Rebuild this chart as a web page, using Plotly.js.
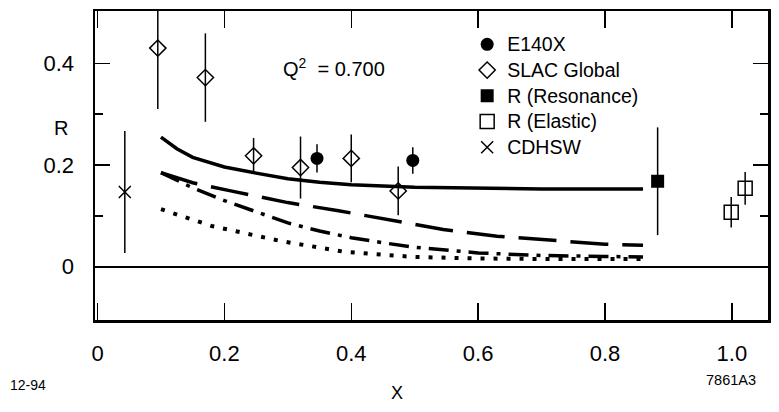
<!DOCTYPE html>
<html>
<head>
<meta charset="utf-8">
<script src="https://cdn.plot.ly/plotly-3.0.1.min.js"></script>
<style>html,body{margin:0;padding:0;background:#fff;}#chart{width:779px;height:412px;}</style>
</head>
<body>
<div id="chart"></div>
<script>
// Data points
const e140xX = [0.346, 0.497];
const e140xY = [0.213, 0.209];
const e140xErr = [0.028, 0.026];

const slacX = [0.095, 0.17, 0.246, 0.32, 0.40, 0.474];
const slacY = [0.43, 0.372, 0.218, 0.195, 0.213, 0.149];
const slacErr = [0.12, 0.087, 0.035, 0.061, 0.047, 0.048];

const resX = [0.883];
const resY = [0.168];
const resErr = [0.106];

const elasX = [0.999, 1.021];
const elasY = [0.107, 0.154];
const elasErr = [0.03, 0.032];

const cdhswX = [0.043];
const cdhswY = [0.147];
const cdhswErr = [0.12];

// Curves
const solidX = [0.10, 0.125, 0.15, 0.2, 0.25, 0.3, 0.35, 0.4, 0.5, 0.6, 0.7, 0.8, 0.86];
const solidY = [0.255, 0.232, 0.215, 0.196, 0.184, 0.173, 0.166, 0.161, 0.156, 0.154, 0.153, 0.153, 0.153];

const dashX = [0.10, 0.15, 0.21, 0.30, 0.38, 0.46, 0.545, 0.63, 0.71, 0.80, 0.86];
const dashY = [0.185, 0.165, 0.149, 0.126, 0.110, 0.092, 0.073, 0.060, 0.052, 0.044, 0.042];

const dashdotX = [0.10, 0.15, 0.2, 0.25, 0.3, 0.35, 0.4, 0.45, 0.5, 0.6, 0.7, 0.8, 0.86];
const dashdotY = [0.185, 0.155, 0.130, 0.108, 0.086, 0.070, 0.057, 0.047, 0.038, 0.027, 0.022, 0.020, 0.019];

const dotX = [0.10, 0.18, 0.29, 0.39, 0.5, 0.6, 0.7, 0.8, 0.86];
const dotY = [0.113, 0.080, 0.050, 0.029, 0.019, 0.016, 0.015, 0.015, 0.015];

const seriesNames = ['E140X', 'SLAC Global', 'R (Resonance)', 'R (Elastic)', 'CDHSW'];

const xTickVals = [0, 0.2, 0.4, 0.6, 0.8, 1.0];
const xTickText = ['0', '0.2', '0.4', '0.6', '0.8', '1.0'];
const yTickVals = [0, 0.2, 0.4];
const yTickText = ['0', '0.2', '0.4'];

const F = 'Liberation Sans, Arial, Helvetica, sans-serif';

function errBar(arr) {
  return {type: 'data', array: arr, visible: true, color: '#000', thickness: 1.5, width: 0};
}
function legName(s) {
  return '<span style="font-size:19.5px">' + s + '</span>';
}

const traces = [
  {x: solidX, y: solidY, mode: 'lines', line: {color: '#000', width: 3.5}, showlegend: false, hoverinfo: 'skip'},
  {x: dashX, y: dashY, mode: 'lines', line: {color: '#000', width: 3.5, dash: '38px,14px'}, showlegend: false, hoverinfo: 'skip'},
  {x: dashdotX, y: dashdotY, mode: 'lines', line: {color: '#000', width: 3.5, dash: '20px,8px,4px,8px'}, showlegend: false, hoverinfo: 'skip'},
  {x: dotX, y: dotY, mode: 'lines', line: {color: '#000', width: 4, dash: '4px,9px'}, showlegend: false, hoverinfo: 'skip'},
  {x: e140xX, y: e140xY, name: legName(seriesNames[0]), mode: 'markers', error_y: errBar(e140xErr),
   marker: {symbol: 'circle', size: 13, color: '#000'}},
  {x: slacX, y: slacY, name: legName(seriesNames[1]), mode: 'markers', error_y: errBar(slacErr),
   marker: {symbol: 'diamond-open', size: 12.5, color: '#000', line: {width: 1.5, color: '#000'}}},
  {x: resX, y: resY, name: legName(seriesNames[2]), mode: 'markers', error_y: errBar(resErr),
   marker: {symbol: 'square', size: 13, color: '#000'}},
  {x: elasX, y: elasY, name: legName(seriesNames[3]), mode: 'markers', error_y: errBar(elasErr),
   marker: {symbol: 'square-open', size: 14, color: '#000', line: {width: 1.5, color: '#000'}}},
  {x: cdhswX, y: cdhswY, name: legName(seriesNames[4]), mode: 'markers', error_y: errBar(cdhswErr),
   marker: {symbol: 'x-thin-open', size: 12, color: '#000', line: {width: 1.5, color: '#000'}}}
];

const layout = {
  width: 779, height: 412,
  margin: {l: 95, r: 11, t: 11, b: 91.5, pad: 0},
  paper_bgcolor: '#fff', plot_bgcolor: '#fff',
  font: {family: F, color: '#000', size: 18},
  showlegend: true,
  legend: {x: 0.553, y: 0.95, xanchor: 'left', yanchor: 'top', bgcolor: 'rgba(0,0,0,0)',
           borderwidth: 0, font: {family: F, size: 17.5, color: '#000'}, tracegroupgap: 0},
  xaxis: {
    range: [-0.004, 1.057], showgrid: false, zeroline: false,
    showline: true, linecolor: '#000', linewidth: 2.5, mirror: 'ticks',
    ticks: 'inside', ticklen: 17, tickwidth: 1.5, tickcolor: '#000',
    tickvals: xTickVals, ticktext: xTickText,
    tickfont: {family: F, size: 22, color: '#000'}, ticklabelstandoff: 12
  },
  yaxis: {
    range: [-0.105, 0.503], showgrid: false,
    zeroline: true, zerolinecolor: '#000', zerolinewidth: 1.8,
    showline: true, linecolor: '#000', linewidth: 2.5, mirror: 'ticks',
    ticks: 'inside', ticklen: 15, tickwidth: 1.5, tickcolor: '#000',
    tickvals: yTickVals, ticktext: yTickText,
    minor: {tickvals: [0.1, 0.3], ticks: 'inside', ticklen: 8, tickwidth: 1.5, tickcolor: '#000'},
    tickfont: {family: F, size: 22, color: '#000'}, ticklabelstandoff: 14
  },
  annotations: [
    {xref: 'x', yref: 'y', x: 0.29, y: 0.392, xanchor: 'left', yanchor: 'middle', showarrow: false,
     text: 'Q<sup>2</sup>&nbsp; = 0.700', font: {family: F, size: 20, color: '#000'}},
    {xref: 'paper', yref: 'paper', x: -0.0505, y: 0.622, xanchor: 'center', yanchor: 'middle', showarrow: false,
     text: 'R', font: {family: F, size: 20, color: '#000'}},
    {xref: 'paper', yref: 'paper', x: 0.449, y: -0.235, xanchor: 'center', yanchor: 'middle', showarrow: false,
     text: 'X', font: {family: F, size: 18, color: '#000'}},
    {xref: 'paper', yref: 'paper', x: -0.129, y: -0.21, xanchor: 'left', yanchor: 'middle', showarrow: false,
     text: '12-94', font: {family: F, size: 14, color: '#000'}},
    {xref: 'paper', yref: 'paper', x: 0.985, y: -0.194, xanchor: 'right', yanchor: 'middle', showarrow: false,
     text: '7861A3', font: {family: F, size: 14.5, color: '#000'}}
  ]
};

Plotly.newPlot('chart', traces, layout, {staticPlot: true, displayModeBar: false});
</script>
</body>
</html>
